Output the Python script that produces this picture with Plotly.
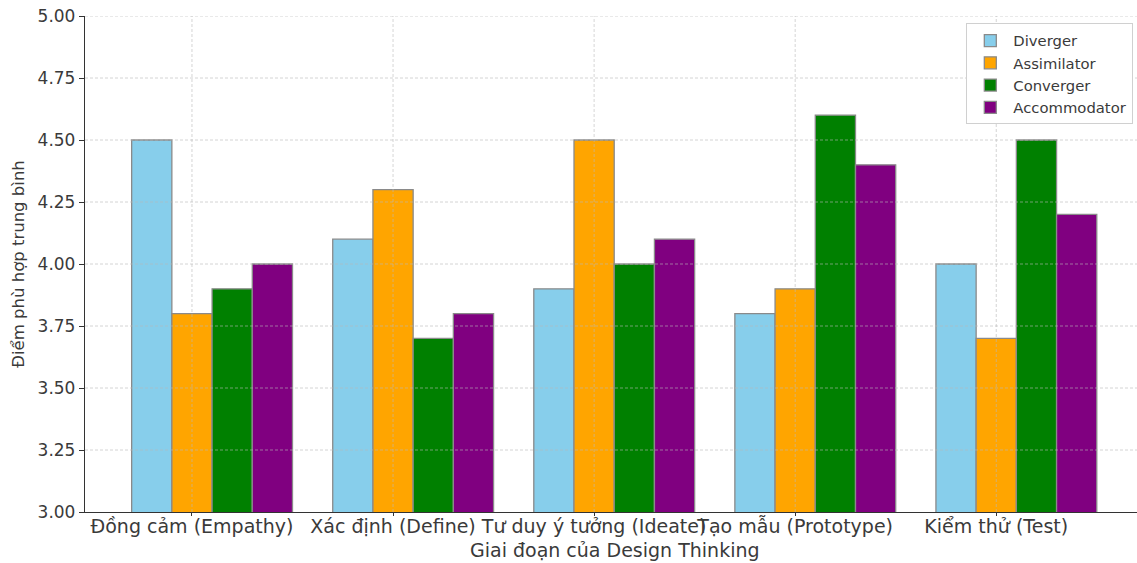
import numpy as np
import plotly.graph_objects as go

# Design Thinking stages (x categories)
stages = [
    "Đồng cảm (Empathy)",
    "Xác định (Define)",
    "Tư duy ý tưởng (Ideate)",
    "Tạo mẫu (Prototype)",
    "Kiểm thử (Test)",
]

# Mean fit score for each learning style
diverger = [4.5, 4.1, 3.9, 3.8, 4.0]
assimilator = [3.8, 4.3, 4.5, 3.9, 3.7]
converger = [3.9, 3.7, 4.0, 4.6, 4.5]
accommodator = [4.0, 3.8, 4.1, 4.4, 4.2]

y_ticks = [3.00, 3.25, 3.50, 3.75, 4.00, 4.25, 4.50, 4.75, 5.00]

series = [
    ("Diverger", diverger, "#87CEEB"),
    ("Assimilator", assimilator, "#FFA500"),
    ("Converger", converger, "#008000"),
    ("Accommodator", accommodator, "#800080"),
]

bar_w = 0.2
pos = np.arange(len(stages))

fig = go.Figure()
for k, (name, vals, color) in enumerate(series):
    fig.add_trace(go.Bar(
        x=pos + (k - 1) * bar_w,
        y=vals,
        width=bar_w,
        name=name,
        marker=dict(color=color, line=dict(color="#8a8a8a", width=1.3)),
    ))

x_range = [-0.532, 4.70]
y_range = [3.0, 5.0]

# dashed grid drawn over the bars
grid_color = "rgba(185,185,185,0.6)"
grid_dash = "3px,2px"
shapes = []
for yv in y_ticks[1:]:
    shapes.append(dict(type="line", xref="x", yref="y", x0=x_range[0], x1=x_range[1],
                       y0=yv, y1=yv, layer="above",
                       line=dict(color=grid_color, width=1, dash=grid_dash)))
for xv in pos:
    shapes.append(dict(type="line", xref="x", yref="y", x0=xv, x1=xv,
                       y0=y_range[0], y1=y_range[1], layer="above",
                       line=dict(color=grid_color, width=1, dash=grid_dash)))

font_family = "DejaVu Sans"
text_color = "#3a3a3a"

fig.update_layout(
    width=1137,
    height=563,
    margin=dict(l=85, r=0, t=16, b=51),
    paper_bgcolor="white",
    plot_bgcolor="white",
    barmode="overlay",
    font=dict(family=font_family, color=text_color, size=16),
    shapes=shapes,
    showlegend=True,
    legend=dict(
        x=0.9965, xanchor="right", y=0.985, yanchor="top",
        bgcolor="white", bordercolor="#d0d0d0", borderwidth=1,
        font=dict(family=font_family, size=14.8, color=text_color),
        tracegroupgap=0,
        itemwidth=36,
    ),
    xaxis=dict(
        range=x_range,
        tickmode="array",
        tickvals=list(pos),
        ticktext=stages,
        tickangle=0,
        showgrid=False,
        zeroline=False,
        showline=True,
        linecolor="#333333",
        linewidth=1.3,
        ticks="outside",
        ticklen=3,
        tickcolor="#333333",
        ticklabelstandoff=-6,
        tickfont=dict(size=19, color=text_color),
    ),
    yaxis=dict(
        range=y_range,
        tickmode="array",
        tickvals=y_ticks,
        ticktext=[f"{v:.2f}" for v in y_ticks],
        showgrid=False,
        zeroline=False,
        showline=True,
        linecolor="#333333",
        linewidth=1.3,
        ticks="outside",
        ticklen=5,
        tickcolor="#333333",
        tickfont=dict(size=17, color=text_color),
        title=dict(text="Điểm phù hợp trung bình", font=dict(size=16.5), standoff=8),
    ),
    annotations=[
        dict(text="Giai đoạn của Design Thinking", xref="paper", yref="paper",
             x=0.5038, y=0, yshift=-38, xanchor="center", yanchor="middle",
             showarrow=False, font=dict(size=19, color=text_color)),
    ],
)

fig.write_html("out.html")
